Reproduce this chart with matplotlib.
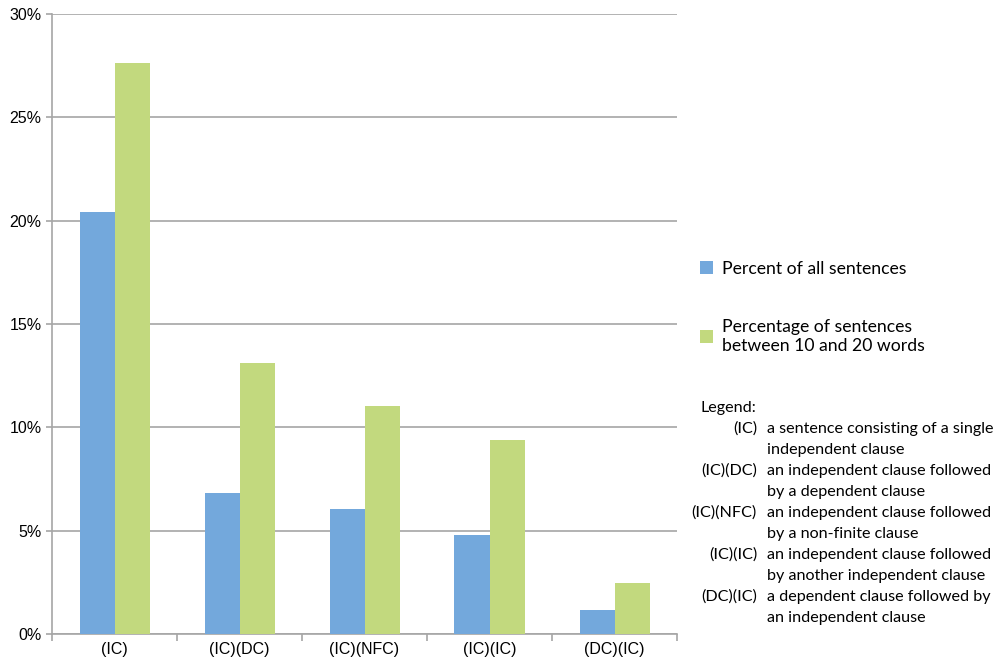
import numpy as np
import matplotlib
matplotlib.use('Agg')
import matplotlib.pyplot as plt
from matplotlib.ticker import PercentFormatter

plt.rcParams['font.family'] = ['Lato', 'DejaVu Sans']

categories = ['(IC)', '(IC)(DC)', '(IC)(NFC)', '(IC)(IC)', '(DC)(IC)']
pct_all = [20.4, 6.8, 6.05, 4.8, 1.15]
pct_10_20 = [27.65, 13.1, 11.05, 9.4, 2.45]
series_names = ['Percent of all sentences',
                'Percentage of sentences\nbetween 10 and 20 words']

key_codes = ['(IC)', '(IC)(DC)', '(IC)(NFC)', '(IC)(IC)', '(DC)(IC)']
key_text = [['a sentence consisting of a single', 'independent clause'],
            ['an independent clause followed', 'by a dependent clause'],
            ['an independent clause followed', 'by a non-finite clause'],
            ['an independent clause followed', 'by another independent clause'],
            ['a dependent clause followed by', 'an independent clause']]

blue = '#73a8dc'
green = '#c2d97e'
grid_col = '#a6a6a6'

fig = plt.figure(figsize=(10.05, 6.62), dpi=100)
ax = fig.add_axes([52 / 1005, 28 / 662, 625 / 1005, 620 / 662])

x = np.arange(len(categories))
width = 0.28
ax.bar(x - width / 2, pct_all, width, color=blue, label=series_names[0], zorder=3)
ax.bar(x + width / 2, pct_10_20, width, color=green, label=series_names[1], zorder=3)

ax.set_xlim(-0.5, len(categories) - 0.5)
ax.set_ylim(0, 30)
ax.set_yticks(np.arange(0, 31, 5))
ax.yaxis.set_major_formatter(PercentFormatter(decimals=0))
ax.grid(True, axis='y', color=grid_col, lw=1.2, zorder=0)

ax.set_xticks(x)
ax.set_xticklabels(categories, fontsize=11.5, family=['Liberation Sans', 'DejaVu Sans'])
ax.set_xticks(np.arange(-0.5, len(categories)), minor=True)
ax.tick_params(axis='x', which='major', length=0, pad=6)
ax.tick_params(axis='x', which='minor', length=5, color=grid_col, width=1.2)
ax.tick_params(axis='y', length=4, color=grid_col, width=1.2, labelsize=11.5)
for lab in ax.get_yticklabels():
    lab.set_family(['Liberation Sans', 'DejaVu Sans'])

for s in ['top', 'right']:
    ax.spines[s].set_visible(False)
for s in ['left', 'bottom']:
    ax.spines[s].set_color(grid_col)
    ax.spines[s].set_linewidth(1.2)

leg = ax.legend(loc='upper left', bbox_to_anchor=(684 / 1005, 1 - 245 / 662),
                bbox_transform=fig.transFigure, frameon=False, fontsize=12.7,
                handlelength=0.75, handleheight=0.75, handletextpad=0.5,
                labelspacing=2.4)

# clause key
fs = 11.6
fig.text(700 / 1005, 1 - 412 / 662, 'Legend:', fontsize=fs, va='baseline', ha='left')
row_y = 433
for code, lines in zip(key_codes, key_text):
    fig.text(757 / 1005, 1 - row_y / 662, code, fontsize=fs, va='baseline', ha='right')
    for i, line in enumerate(lines):
        fig.text(767 / 1005, 1 - (row_y + i * 20.6) / 662, line, fontsize=fs,
                 va='baseline', ha='left')
    row_y += 42

fig.savefig('out.png', dpi=100)
